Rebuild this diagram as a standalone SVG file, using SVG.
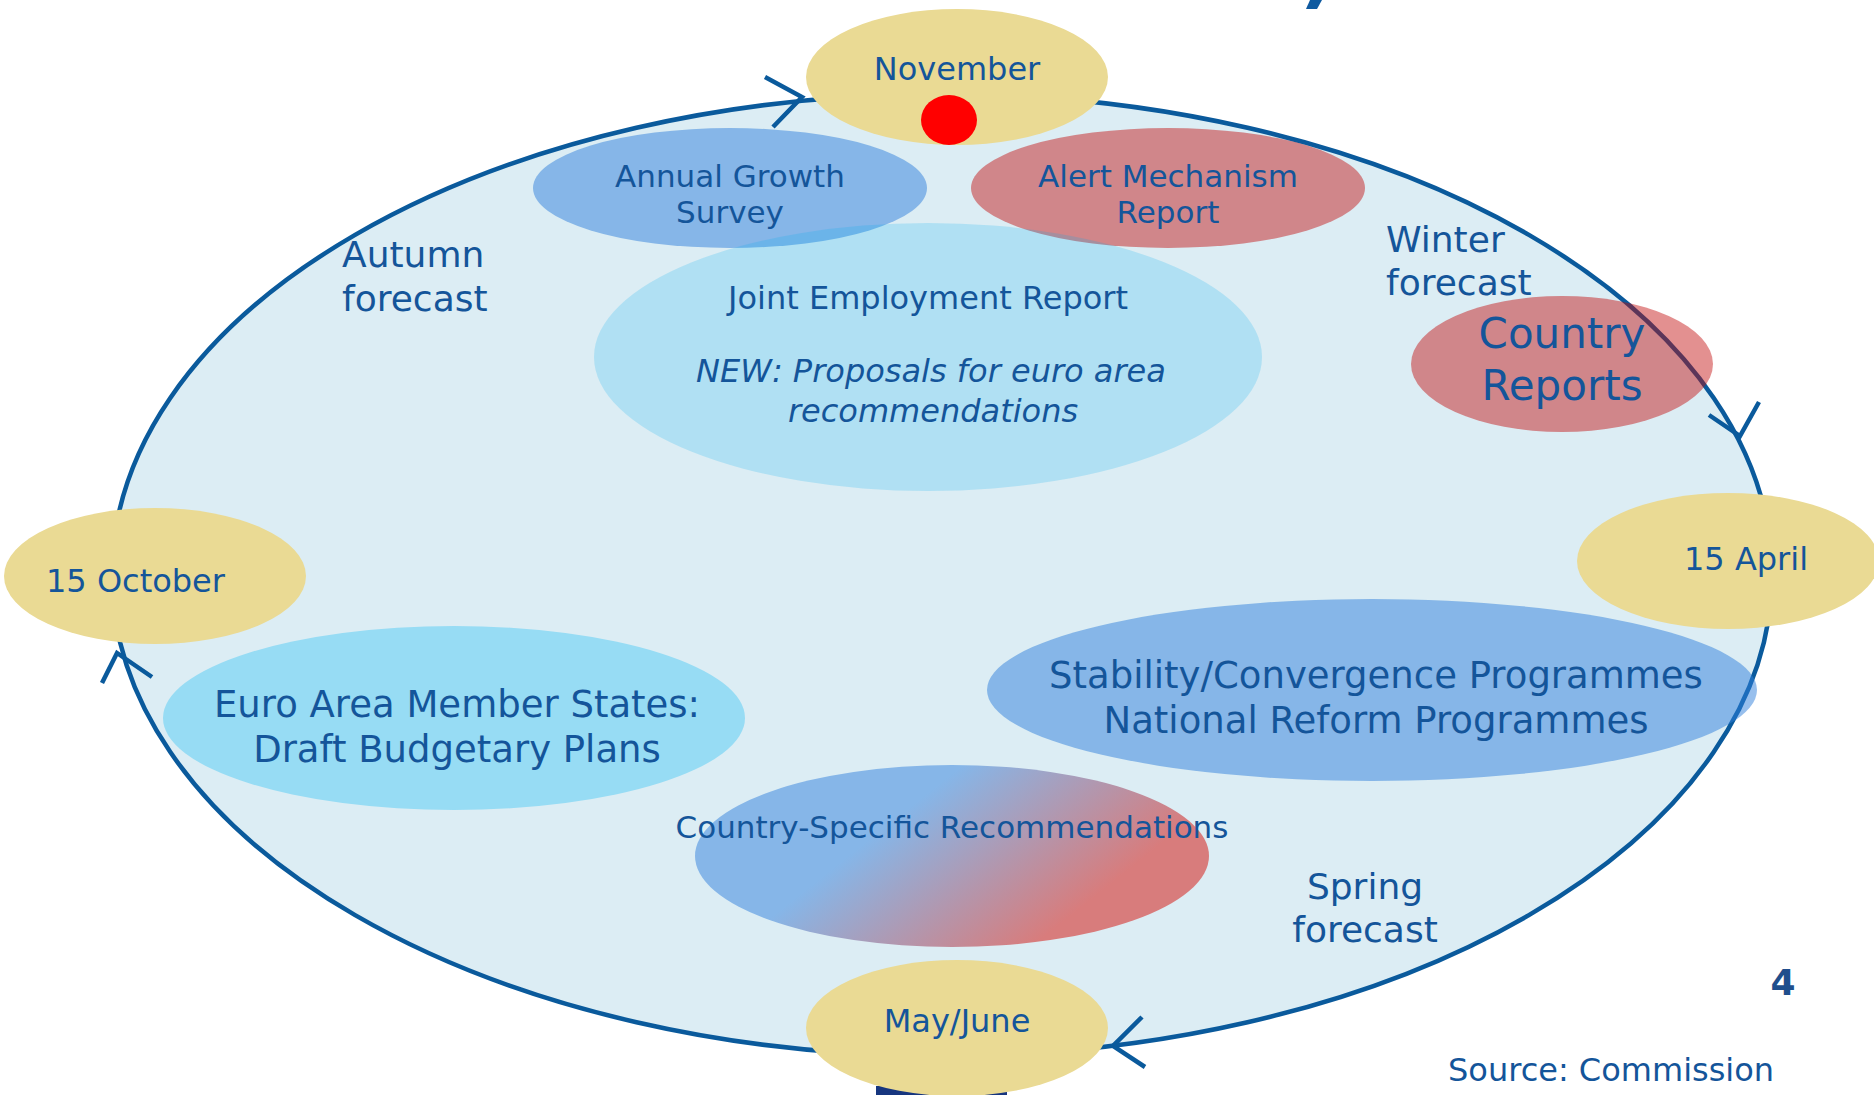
<svg xmlns="http://www.w3.org/2000/svg" width="1874" height="1095" viewBox="0 0 1874 1095">
<defs>
<style>
text{font-family:"DejaVu Sans",Verdana,"Liberation Sans",sans-serif;fill:#14559A;}
.m{text-anchor:middle;}
.date{fill:#EADA94;}
.arc{fill:none;stroke:#0A5A9C;stroke-width:4.5;stroke-linecap:butt;stroke-linejoin:miter;}
.f31{font-size:31px;}
.f32{font-size:32px;}
.f36{font-size:36px;}
.f37{font-size:37px;}
.f42{font-size:42px;}
</style>
<linearGradient id="csrGrad" gradientUnits="userSpaceOnUse" x1="900" y1="815" x2="1015" y2="960">
<stop offset="0" stop-color="#86B6E8"/>
<stop offset="1" stop-color="#D87C7C"/>
</linearGradient>
</defs>
<rect width="1874" height="1095" fill="#FFFFFF"/>
<g id="fragments">
<polygon points="1310,0 1322,0 1317,9 1306,9" fill="#0F5AA0"/>
<rect x="876" y="1086" width="131" height="9" fill="#17367F"/>
</g>
<g id="cycle-background">
<ellipse cx="942" cy="575" rx="830" ry="481" fill="#DCEDF4"/>
</g>
<g id="connectors">
<ellipse class="arc" cx="942" cy="575" rx="830" ry="481"/>
<polyline class="arc" points="765,77 802,97 773,127"/>
<polyline class="arc" points="1709,415 1740,436 1759,402"/>
<polyline class="arc" points="1142,1017 1113,1046 1145,1067"/>
<polyline class="arc" points="102,683 117,653 152,677"/>
</g>
<g id="labels-forecast">
<text class="f36" x="342" y="267">Autumn</text>
<text class="f36" x="342" y="311">forecast</text>
<text class="f36" x="1386" y="252">Winter</text>
<text class="f36" x="1386" y="295">forecast</text>
<text class="f36 m" x="1365" y="899">Spring</text>
<text class="f36 m" x="1365" y="942">forecast</text>
</g>
<g id="annual-growth-survey">
<ellipse cx="730" cy="188" rx="197" ry="60" fill="#307FDC" fill-opacity="0.5"/>
<text class="f31 m" x="730" y="187">Annual Growth</text>
<text class="f31 m" x="730" y="223">Survey</text>
</g>
<g id="alert-mechanism-report">
<ellipse cx="1168" cy="188" rx="197" ry="60" fill="#C10909" fill-opacity="0.45"/>
<text class="f31 m" x="1168" y="187">Alert Mechanism</text>
<text class="f31 m" x="1168" y="223">Report</text>
</g>
<g id="joint-employment-report">
<ellipse cx="928" cy="357" rx="334" ry="134" fill="#00B0F0" fill-opacity="0.2"/>
<text class="f32 m" x="928" y="309">Joint Employment Report</text>
<text class="f32 m" x="931" y="382" font-style="italic">NEW: Proposals for euro area</text>
<text class="f32 m" x="933" y="422" font-style="italic">recommendations</text>
</g>
<g id="country-reports">
<ellipse cx="1562" cy="364" rx="151" ry="68" fill="#C10909" fill-opacity="0.45"/>
<text class="f42 m" x="1562" y="348">Country</text>
<text class="f42 m" x="1562" y="400">Reports</text>
</g>
<g id="euro-area-dbp">
<ellipse cx="454" cy="718" rx="291" ry="92" fill="#97DCF4"/>
<text class="f37 m" x="457" y="717">Euro Area Member States:</text>
<text class="f37 m" x="457" y="762">Draft Budgetary Plans</text>
</g>
<g id="stability-nrp">
<ellipse cx="1372" cy="690" rx="385" ry="91" fill="#307FDC" fill-opacity="0.5"/>
<text class="f37 m" x="1376" y="688">Stability/Convergence Programmes</text>
<text class="f37 m" x="1376" y="733">National Reform Programmes</text>
</g>
<g id="csr">
<ellipse cx="952" cy="856" rx="257" ry="91" fill="url(#csrGrad)"/>
<text class="f31 m" x="952" y="838">Country-Specific Recommendations</text>
</g>
<g id="november">
<ellipse class="date" cx="957" cy="77" rx="151" ry="68"/>
<text class="f32 m" x="957" y="80">November</text>
<ellipse cx="949" cy="120" rx="28" ry="25" fill="#FF0000"/>
</g>
<g id="april">
<ellipse class="date" cx="1728" cy="561" rx="151" ry="68"/>
<text class="f32" x="1684" y="570">15 April</text>
</g>
<g id="october">
<ellipse class="date" cx="155" cy="576" rx="151" ry="68"/>
<text class="f32" x="46" y="592">15 October</text>
</g>
<g id="mayjune">
<ellipse class="date" cx="957" cy="1028" rx="151" ry="68"/>
<text class="f32 m" x="957" y="1032">May/June</text>
</g>
<g id="footer">
<text x="1783" y="995" font-size="36" font-weight="bold" text-anchor="middle" style="fill:#1F4E8C">4</text>
<text class="f32" x="1448" y="1081">Source: Commission</text>
</g>
</svg>
